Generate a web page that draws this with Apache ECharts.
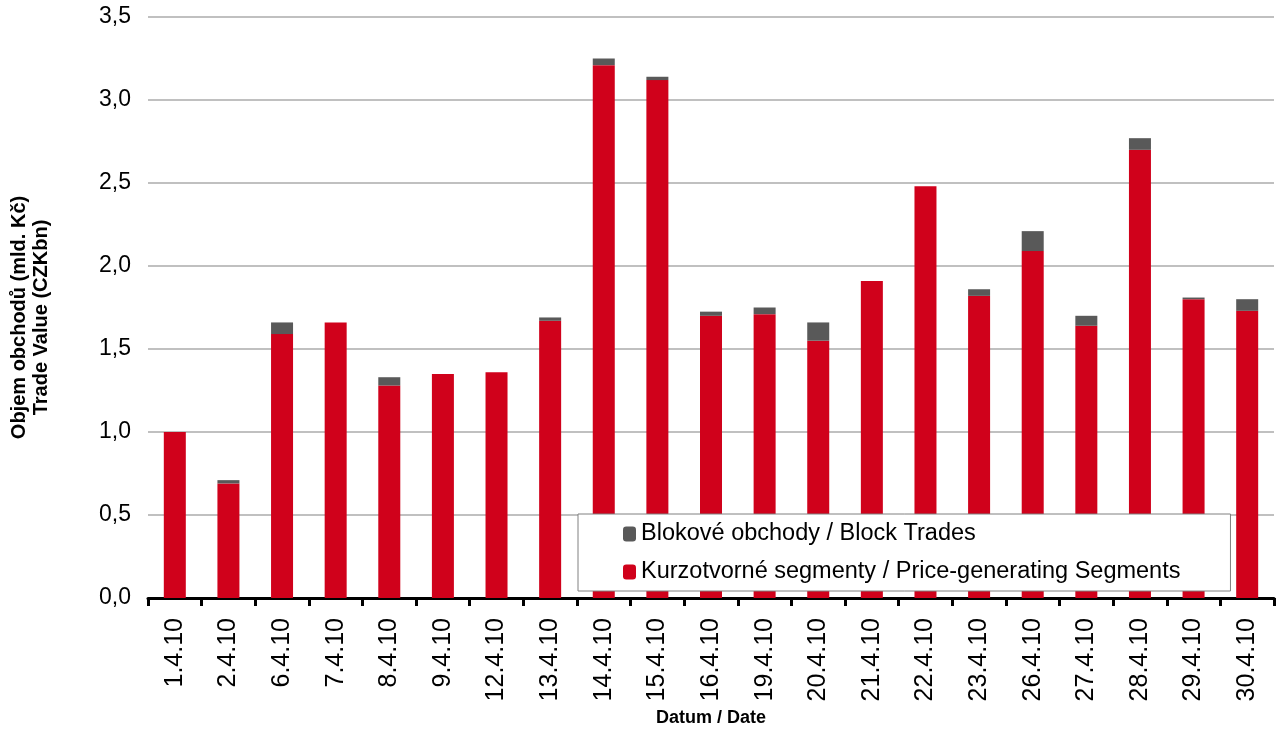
<!DOCTYPE html>
<html><head><meta charset="utf-8">
<script src="https://cdn.jsdelivr.net/npm/echarts@6/dist/echarts.min.js"></script>
<style>html,body{margin:0;padding:0;background:#fff}#c{width:1276px;height:737px}</style>
</head><body><div id="c"></div>
<script>
var categories = ['1.4.10','2.4.10','6.4.10','7.4.10','8.4.10','9.4.10','12.4.10','13.4.10','14.4.10','15.4.10','16.4.10','19.4.10','20.4.10','21.4.10','22.4.10','23.4.10','26.4.10','27.4.10','28.4.10','29.4.10','30.4.10'];
var priceSegments = [1.00,0.69,1.59,1.66,1.28,1.35,1.36,1.67,3.21,3.12,1.70,1.71,1.55,1.91,2.48,1.82,2.09,1.64,2.70,1.80,1.73];
var blockTrades   = [0.00,0.02,0.07,0.00,0.05,0.00,0.00,0.02,0.04,0.02,0.025,0.04,0.11,0.00,0.00,0.04,0.12,0.06,0.07,0.01,0.07];
var nameBlock = 'Blokové obchody / Block Trades';
var namePrice = 'Kurzotvorné segmenty / Price-generating Segments';

var chart = echarts.init(document.getElementById('c'));
chart.setOption({
  animation: false,
  textStyle: {fontFamily: 'Liberation Sans, Arial, sans-serif'},
  grid: {left: 145, right: 2, top: 17, bottom: 139},
  legend: {
    data: [nameBlock, namePrice],
    orient: 'vertical',
    left: 578, top: 514,
    backgroundColor: '#fff',
    borderColor: '#808080', borderWidth: 1,
    padding: [8, 50, 7, 45],
    itemGap: 14,
    itemWidth: 13, itemHeight: 15,
    textStyle: {fontSize: 23.5, color: '#000', fontFamily: 'Liberation Sans, Arial, sans-serif'}
  },
  xAxis: {
    type: 'category',
    data: categories,
    name: 'Datum / Date',
    nameLocation: 'middle',
    nameGap: 111,
    nameTextStyle: {fontSize: 18, fontWeight: 'bold', color: '#000'},
    axisLine: {lineStyle: {color: '#000', width: 3}},
    axisTick: {show: true, length: 8, lineStyle: {color: '#000', width: 3}},
    axisLabel: {rotate: 90, fontSize: 25, color: '#000', margin: 20, interval: 0}
  },
  yAxis: {
    type: 'value',
    min: 0, max: 3.5, interval: 0.5,
    name: 'Objem obchodů (mld. Kč)\nTrade Value (CZKbn)',
    nameLocation: 'middle',
    nameGap: 96,
    nameTextStyle: {fontSize: 20, fontWeight: 'bold', color: '#000', lineHeight: 22, padding: [0, 20, 0, 0]},
    axisLine: {show: false},
    axisTick: {show: false},
    splitLine: {lineStyle: {color: '#c0c0c0', width: 2}},
    axisLabel: {fontSize: 23, color: '#000', margin: 17,
      formatter: function(v){ return v.toFixed(1).replace('.', ','); }}
  },
  series: [
    {name: namePrice, type: 'bar', stack: 's', data: priceSegments, barWidth: 22,
     itemStyle: {color: '#d0011b'}},
    {name: nameBlock, type: 'bar', stack: 's', data: blockTrades, barWidth: 22,
     itemStyle: {color: '#595959'}}
  ]
});
</script></body></html>
